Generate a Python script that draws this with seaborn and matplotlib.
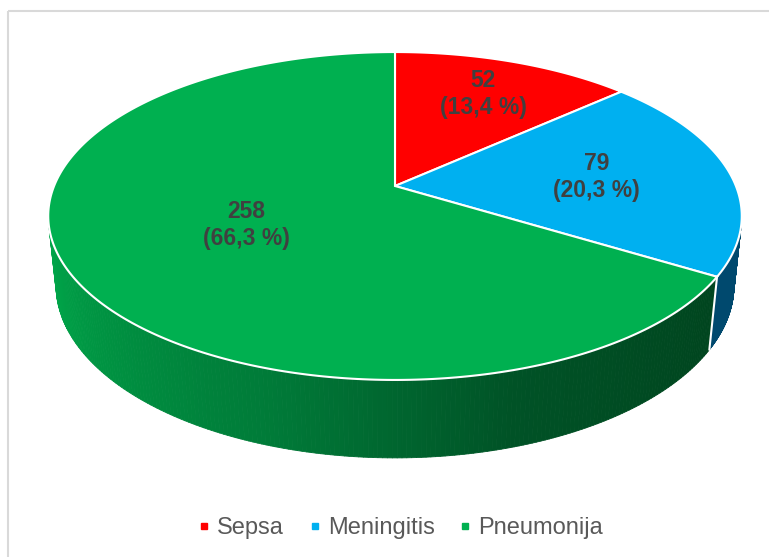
import numpy as np
import matplotlib.pyplot as plt
import seaborn as sns
from matplotlib.lines import Line2D
from matplotlib.patches import Rectangle
from matplotlib.collections import PolyCollection
from matplotlib.colors import to_rgb

# podaci
categories = ['Sepsa', 'Meningitis', 'Pneumonija']
counts = [52, 79, 258]
percent_labels = ['13,4 %', '20,3 %', '66,3 %']
top_colors = ['#FF0000', '#00B0F0', '#00B050']
side_colors = ['#A00000', '#00496E', '#00773A']

sns.set_theme(style='white')
plt.rcParams['font.family'] = ['Liberation Sans', 'DejaVu Sans']

# perspektiva (kamera iznad kolaca)
cx, cy = 395, 186
focal = 1650
dist = 4.84
phi = np.radians(27.7)
height = 0.231


def proj(X, Y, Z):
    depth = dist + Y * np.cos(phi) - Z * np.sin(phi)
    up = Y * np.sin(phi) + Z * np.cos(phi)
    return cx + focal * X / depth, cy - focal * up / depth


fig = plt.figure(figsize=(7.69, 5.57), dpi=100)
ax = fig.add_axes([0, 0, 1, 1])
ax.set_xlim(0, 769)
ax.set_ylim(557, 0)
ax.axis('off')

ax.add_patch(Rectangle((8, 11), 800, 600, fill=False, edgecolor='#D9D9D9', lw=1.5))

fracs = np.array(counts) / sum(counts)
edges = 90 - 360 * np.concatenate([[0], np.cumsum(fracs)])  # smjer kazaljke

# vidljivi dio boka
s_lim = -1 / (dist * np.cos(phi))
vis_a = 180 + np.degrees(np.arcsin(-s_lim))
vis_b = 360 - np.degrees(np.arcsin(-s_lim))

green_stops = [vis_a, 253, 287, 330]
green_cols = np.array([to_rgb(c) for c in ['#00A84A', '#007A38', '#005226', '#00441E']])

polys, fcs = [], []
for i in range(len(counts)):
    a0, a1 = edges[i + 1] % 360, edges[i] % 360
    if a1 <= a0:
        a1 += 360
    lo, hi = max(a0, vis_a), min(a1, vis_b)
    if hi <= lo:
        continue
    th = np.linspace(lo, hi, 200)
    for t0, t1 in zip(th[:-1], th[1:]):
        r0, r1 = np.radians(t0), np.radians(t1)
        p = [proj(np.cos(r0), np.sin(r0), 0), proj(np.cos(r1), np.sin(r1), 0),
             proj(np.cos(r1), np.sin(r1), -height), proj(np.cos(r0), np.sin(r0), -height)]
        polys.append(p)
        if i == 2:
            tm = (t0 + t1) / 2
            fcs.append([np.interp(tm, green_stops, green_cols[:, k]) for k in range(3)])
        else:
            fcs.append(to_rgb(side_colors[i]))
ax.add_collection(PolyCollection(polys, facecolors=fcs, edgecolors=fcs, linewidths=0.6))

# bijela linija izmedu bokova
for e in edges:
    r = np.radians(e % 360)
    if vis_a < e % 360 < vis_b:
        x0, y0 = proj(np.cos(r), np.sin(r), 0)
        x1, y1 = proj(np.cos(r), np.sin(r), -height)
        ax.plot([x0, x1], [y0, y1], color='white', lw=1.5)

# gornja ploha
for i in range(len(counts)):
    th = np.radians(np.linspace(edges[i], edges[i + 1], 300))
    xs, ys = proj(np.cos(th), np.sin(th), 0)
    xs = np.concatenate([[cx], xs])
    ys = np.concatenate([[cy], ys])
    ax.fill(xs, ys, facecolor=top_colors[i], edgecolor='white', lw=1.5)

# oznake
label_r = [0.71, 0.6, 0.48]
for i in range(len(counts)):
    mid = np.radians((edges[i] + edges[i + 1]) / 2)
    lx, ly = proj(label_r[i] * np.cos(mid), label_r[i] * np.sin(mid), 0)
    ax.text(lx, ly, f'{counts[i]}\n({percent_labels[i]})', ha='center', va='center',
            fontsize=16.5, fontweight='bold', color='#404040')

handles = [Line2D([], [], marker='s', linestyle='', markersize=5, color=c) for c in top_colors]
fig.legend(handles, categories, loc='center', bbox_to_anchor=(400 / 769, 1 - 528 / 557),
           ncol=3, frameon=False, fontsize=17, labelcolor='#595959',
           handlelength=0.6, handletextpad=0.25, columnspacing=1.0)

plt.savefig('out.png', dpi=100)
